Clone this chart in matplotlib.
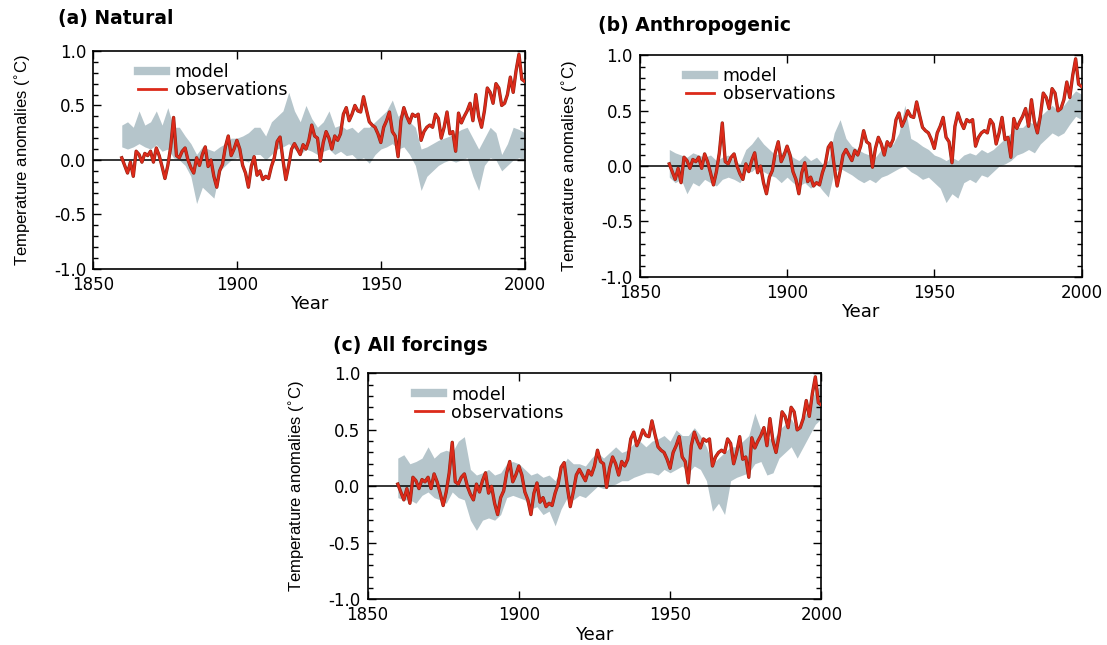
import matplotlib
matplotlib.use("Agg")
import matplotlib.pyplot as plt
import matplotlib.patheffects as pe
from matplotlib.lines import Line2D
from matplotlib.ticker import MultipleLocator

obs_years = list(range(1860, 2001))
obs = [
    0.02, -0.05, -0.12, -0.02, -0.15, 0.08, 0.05, -0.02, 0.06, 0.04,    # 1860s
    0.08, -0.02, 0.11, 0.04, -0.06, -0.17, -0.05, 0.12, 0.39, 0.04,     # 1870s
    0.02, 0.08, 0.11, 0.00, -0.07, -0.12, 0.02, -0.05, 0.05, 0.12,      # 1880s
    -0.06, 0.00, -0.15, -0.25, -0.10, -0.04, 0.12, 0.22, 0.04, 0.10,    # 1890s
    0.18, 0.10, -0.05, -0.12, -0.25, -0.06, 0.03, -0.14, -0.10, -0.18,  # 1900s
    -0.15, -0.17, -0.06, 0.02, 0.17, 0.21, 0.00, -0.18, -0.05, 0.10,    # 1910s
    0.15, 0.10, 0.05, 0.14, 0.10, 0.18, 0.32, 0.22, 0.20, -0.01,        # 1920s
    0.16, 0.26, 0.20, 0.10, 0.22, 0.18, 0.24, 0.42, 0.48, 0.36,         # 1930s
    0.42, 0.50, 0.45, 0.44, 0.58, 0.46, 0.35, 0.32, 0.30, 0.24,         # 1940s
    0.16, 0.30, 0.36, 0.44, 0.26, 0.22, 0.03, 0.36, 0.48, 0.40,         # 1950s
    0.34, 0.42, 0.40, 0.42, 0.18, 0.26, 0.30, 0.32, 0.30, 0.42,         # 1960s
    0.38, 0.20, 0.30, 0.44, 0.24, 0.26, 0.08, 0.43, 0.34, 0.40,         # 1970s
    0.45, 0.52, 0.36, 0.60, 0.40, 0.30, 0.45, 0.66, 0.62, 0.52,         # 1980s
    0.70, 0.66, 0.50, 0.52, 0.60, 0.76, 0.62, 0.82, 0.97, 0.74,         # 1990s
    0.72,                                                               # 2000
]

# Model ensemble range, every second year 1860-2000
band_years = list(range(1860, 2001, 2))

natural_hi = [
    0.32, 0.35, 0.30, 0.45, 0.32, 0.35, 0.45, 0.32, 0.48, 0.30,
    0.30, 0.22, 0.15, 0.05, 0.12, 0.10, 0.08, 0.12, 0.15, 0.20,
    0.20, 0.22, 0.25, 0.30, 0.30, 0.22, 0.35, 0.40, 0.45, 0.62,
    0.45, 0.35, 0.50, 0.38, 0.30, 0.35, 0.45, 0.30, 0.32, 0.28,
    0.30, 0.25, 0.30, 0.30, 0.35, 0.40, 0.45, 0.55, 0.40, 0.45,
    0.35, 0.30, 0.10, 0.12, 0.15, 0.18, 0.20, 0.22, 0.25, 0.28,
    0.30, 0.20, 0.10, 0.20, 0.30, 0.25, 0.05, 0.15, 0.30, 0.28,
    0.25,
]
natural_lo = [
    0.12, 0.10, 0.12, 0.15, 0.12, 0.10, 0.14, 0.08, 0.10, 0.02,
    0.00, -0.05, -0.15, -0.40, -0.25, -0.30, -0.35, -0.10, -0.05, 0.00,
    0.02, 0.00, -0.02, 0.05, 0.05, 0.00, 0.05, 0.10, 0.12, 0.15,
    0.10, 0.05, 0.10, 0.08, 0.05, 0.08, 0.10, 0.05, 0.08, 0.04,
    0.05, 0.00, 0.02, -0.03, 0.05, 0.10, 0.12, 0.15, 0.10, 0.12,
    0.05, -0.05, -0.28, -0.15, -0.10, -0.05, -0.02, 0.00, -0.02, 0.00,
    0.02, -0.15, -0.28, -0.05, 0.02, 0.00, -0.10, -0.05, 0.00, 0.02,
    0.00,
]

anthro_hi = [
    0.15, 0.12, 0.10, 0.08, 0.12, 0.10, 0.08, 0.10, 0.05, 0.08,
    0.10, 0.05, 0.02, 0.15, 0.20, 0.27, 0.20, 0.15, 0.10, 0.12,
    0.15, 0.08, 0.05, 0.10, 0.05, 0.08, 0.02, 0.05, 0.30, 0.42,
    0.25, 0.18, 0.15, 0.12, 0.10, 0.08, 0.15, 0.18, 0.20, 0.30,
    0.55, 0.25, 0.22, 0.18, 0.15, 0.10, 0.08, 0.05, 0.08, 0.05,
    0.10, 0.12, 0.10, 0.15, 0.12, 0.15, 0.20, 0.25, 0.30, 0.35,
    0.35, 0.40, 0.38, 0.45, 0.50, 0.55, 0.50, 0.55, 0.62, 0.68,
    0.65,
]
anthro_lo = [
    -0.10, -0.15, -0.12, -0.25, -0.15, -0.18, -0.12, -0.15, -0.18, -0.12,
    -0.10, -0.12, -0.15, -0.05, -0.05, 0.00, -0.05, -0.08, -0.10, -0.15,
    -0.10, -0.15, -0.18, -0.15, -0.20, -0.15, -0.22, -0.28, -0.05, -0.02,
    -0.05, -0.08, -0.12, -0.15, -0.12, -0.15, -0.10, -0.08, -0.05, -0.02,
    0.00, -0.05, -0.08, -0.12, -0.10, -0.15, -0.20, -0.33, -0.25, -0.29,
    -0.15, -0.12, -0.15, -0.08, -0.10, -0.05, 0.00, 0.02, 0.05, 0.10,
    0.12, 0.15, 0.12, 0.20, 0.25, 0.30, 0.27, 0.30, 0.38, 0.45,
    0.42,
]

all_hi = [
    0.25, 0.28, 0.20, 0.22, 0.25, 0.35, 0.25, 0.30, 0.32, 0.30,
    0.40, 0.44, 0.15, 0.10, 0.12, 0.15, 0.10, 0.12, 0.20, 0.22,
    0.20, 0.15, 0.10, 0.12, 0.08, 0.10, 0.05, 0.15, 0.25, 0.20,
    0.20, 0.18, 0.25, 0.30, 0.25, 0.30, 0.35, 0.30, 0.32, 0.38,
    0.40, 0.35, 0.40, 0.42, 0.45, 0.40, 0.50, 0.45, 0.45, 0.52,
    0.45, 0.35, 0.20, 0.25, 0.30, 0.35, 0.35, 0.40, 0.45, 0.65,
    0.50, 0.45, 0.40, 0.50, 0.55, 0.60, 0.50, 0.60, 0.70, 0.85,
    0.90,
]
all_lo = [
    -0.10, -0.12, -0.12, -0.15, -0.08, -0.05, -0.10, -0.12, -0.15, -0.05,
    -0.10, -0.12, -0.30, -0.39, -0.30, -0.28, -0.30, -0.25, -0.10, -0.08,
    -0.10, -0.12, -0.20, -0.18, -0.25, -0.22, -0.35, -0.20, -0.10, -0.12,
    -0.08, -0.10, -0.05, 0.00, -0.02, 0.00, 0.02, 0.05, 0.05, 0.08,
    0.10, 0.12, 0.12, 0.10, 0.15, 0.12, 0.15, 0.18, 0.12, 0.18,
    0.15, 0.05, -0.22, -0.15, -0.25, 0.05, 0.08, 0.10, 0.12, 0.20,
    0.22, 0.10, 0.12, 0.25, 0.30, 0.35, 0.25, 0.35, 0.45, 0.55,
    0.60,
]

titles = ["(a) Natural", "(b) Anthropogenic", "(c) All forcings"]
bands = [(natural_lo, natural_hi), (anthro_lo, anthro_hi), (all_lo, all_hi)]

# axes rectangles (figure fractions) and title anchor points
rects = [
    [0.084, 0.583, 0.390, 0.338],
    [0.578, 0.571, 0.399, 0.343],
    [0.332, 0.071, 0.410, 0.350],
]
title_pos = [(0.052, 0.972), (0.540, 0.961), (0.301, 0.465)]

band_colour = "#b5c5cb"
obs_colour = "#dc2a1a"

fig = plt.figure(figsize=(11.07, 6.45), dpi=100)

for i in range(3):
    ax = fig.add_axes(rects[i])
    lo, hi = bands[i]
    ax.fill_between(band_years, lo, hi, color=band_colour, lw=0, zorder=1)
    ax.axhline(0, color="black", lw=1.1, zorder=2)
    ax.plot(obs_years, obs, color=obs_colour, lw=1.6, zorder=3,
            path_effects=[pe.Stroke(linewidth=2.4, foreground="#8e2414"),
                          pe.Normal()])

    ax.set_xlim(1850, 2000)
    ax.set_ylim(-1.0, 1.0)
    ax.set_xticks([1850, 1900, 1950, 2000])
    ax.set_yticks([-1.0, -0.5, 0.0, 0.5, 1.0])
    ax.set_yticklabels(["-1.0", "-0.5", "0.0", "0.5", "1.0"])
    ax.yaxis.set_minor_locator(MultipleLocator(0.1))
    ax.tick_params(which="both", direction="in", top=True, right=True,
                   labelsize=12, width=1.0)
    ax.tick_params(which="major", length=6, pad=5)
    ax.tick_params(which="minor", length=3.5)
    for sp in ax.spines.values():
        sp.set_linewidth(1.2)

    ax.set_xlabel("Year", fontsize=13, labelpad=1)
    ax.set_ylabel("Temperature anomalies ($^{\\circ}$C)", fontsize=12,
                  family="Liberation Sans", labelpad=15)

    handles = [Line2D([], [], color=band_colour, lw=6),
               Line2D([], [], color=obs_colour, lw=2)]
    ax.legend(handles, ["model", "observations"], loc="upper left",
              bbox_to_anchor=(0.085, 0.985), frameon=False, fontsize=12.5,
              handlelength=1.6, handletextpad=0.5, labelspacing=0.0,
              borderpad=0)

    fig.text(title_pos[i][0], title_pos[i][1], titles[i], fontsize=13.5,
             fontweight="bold", ha="left", va="center")

fig.savefig("out.png", dpi=100)
